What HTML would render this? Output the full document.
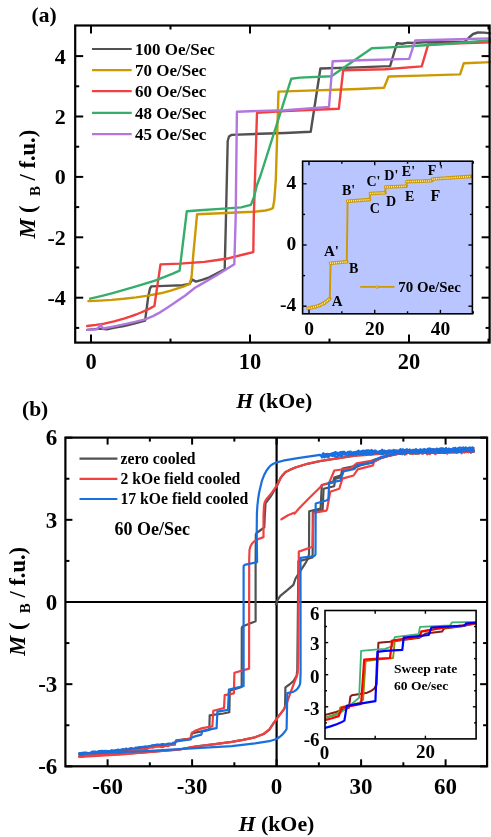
<!DOCTYPE html>
<html><head><meta charset="utf-8"><title>figure</title>
<style>
html,body{margin:0;padding:0;background:#fff;}
svg{display:block;}
text{font-family:"Liberation Serif",serif;fill:#000;}
svg{will-change:transform;}
</style></head><body>
<svg width="491" height="837" viewBox="0 0 491 837">
<defs>
<clipPath id="clipA"><rect x="75.2" y="25.5" width="416.40000000000003" height="317.1"/></clipPath>
<clipPath id="clipB"><rect x="65.4" y="437.6" width="421.70000000000005" height="328.69999999999993"/></clipPath>
<clipPath id="clipJ"><rect x="325.0" y="610.5" width="151.10000000000002" height="128.39999999999998"/></clipPath>
</defs>
<rect width="491" height="837" fill="#fff"/>
<g clip-path="url(#clipA)">
<polyline points="87.2,329.9 99.4,328.6 106.8,329.2 115.0,327.5 123.9,326.0 135.0,323.4 145.1,320.7 148.3,296.2 150.0,288.5 151.3,286.4 165.0,285.9 182.5,285.2 189.4,284.0 192.3,279.5 195.9,281.6 202.0,279.8 209.3,277.3 224.7,269.2 225.7,228.9 227.7,141.0 229.0,136.5 231.3,134.9 260.0,133.8 285.0,133.0 310.7,131.8 320.4,68.5 350.0,67.6 390.1,66.1 396.9,43.3 402.0,43.8 408.0,42.6 413.1,43.0 423.9,42.2 464.9,41.6 469.0,37.5 473.1,34.0 477.8,32.5 484.0,32.6 491.0,33.4" fill="none" stroke="#515151" stroke-width="2.4" stroke-linejoin="round" stroke-linecap="round" />
<polyline points="88.4,301.1 100.0,300.6 111.7,299.9 124.0,298.8 136.1,297.4 148.0,295.6 160.5,293.3 170.0,290.8 177.7,288.4 184.0,286.3 189.4,284.0 191.2,279.0 191.8,274.2 193.4,253.3 197.1,214.2 220.0,213.2 253.3,211.8 265.5,210.5 270.0,209.4 272.9,208.1 274.3,200.0 275.8,180.0 278.5,91.6 300.0,90.9 358.3,89.0 384.0,87.8 388.6,76.5 420.0,75.6 460.1,74.4 463.8,63.2 491.0,62.1" fill="none" stroke="#CC9900" stroke-width="2.4" stroke-linejoin="round" stroke-linecap="round" />
<polyline points="87.2,326.0 96.0,324.9 104.3,323.6 114.0,321.4 123.9,318.7 130.0,316.7 136.1,314.5 141.0,312.5 145.9,310.4 150.0,308.4 154.4,306.0 160.5,264.4 180.0,263.6 204.4,261.9 216.0,260.2 228.9,258.2 243.5,254.5 253.3,252.1 253.8,216.7 257.0,112.9 285.0,111.0 338.8,108.8 343.2,70.2 385.0,69.2 421.7,66.4 428.2,44.4 491.0,42.2" fill="none" stroke="#F14040" stroke-width="2.4" stroke-linejoin="round" stroke-linecap="round" />
<polyline points="90.2,298.7 100.0,296.3 111.7,293.3 124.0,289.9 136.1,286.4 146.0,283.4 155.7,280.3 164.0,277.2 172.8,273.7 179.6,270.6 183.3,240.0 186.8,211.3 200.0,210.3 220.0,208.9 241.1,207.4 250.9,204.9 254.0,197.0 257.0,185.0 260.7,175.0 291.2,78.8 300.0,77.6 331.4,76.3 371.8,48.2 385.0,47.6 405.0,46.5 449.8,43.7 491.0,40.1" fill="none" stroke="#37AD6B" stroke-width="2.4" stroke-linejoin="round" stroke-linecap="round" />
<polyline points="87.2,329.9 97.0,329.2 100.7,324.8 103.1,328.5 113.0,326.6 123.9,324.3 135.0,321.9 145.1,319.4 153.0,316.1 160.5,312.1 166.5,308.2 172.8,304.0 179.0,299.8 185.0,295.7 190.0,291.7 195.0,287.7 199.6,285.1 216.7,275.3 234.3,264.3 235.7,216.7 236.9,111.7 260.0,110.9 285.0,110.3 329.0,106.9 332.7,61.2 360.0,60.3 409.2,58.9 415.2,40.5 450.0,39.5 491.0,38.4" fill="none" stroke="#B177DE" stroke-width="2.4" stroke-linejoin="round" stroke-linecap="round" />
</g>
<rect x="75.2" y="25.5" width="414.40000000000003" height="317.1" fill="none" stroke="#000" stroke-width="2.2"/>
<line x1="91.00" y1="342.60" x2="91.00" y2="334.60" stroke="#000" stroke-width="2"/>
<line x1="91.00" y1="25.50" x2="91.00" y2="33.50" stroke="#000" stroke-width="2"/>
<text x="91.0" y="369.4" font-size="22.5" text-anchor="middle" font-weight="bold"  style="">0</text>
<line x1="250.00" y1="342.60" x2="250.00" y2="334.60" stroke="#000" stroke-width="2"/>
<line x1="250.00" y1="25.50" x2="250.00" y2="33.50" stroke="#000" stroke-width="2"/>
<text x="250.0" y="369.4" font-size="22.5" text-anchor="middle" font-weight="bold"  style="">10</text>
<line x1="409.00" y1="342.60" x2="409.00" y2="334.60" stroke="#000" stroke-width="2"/>
<line x1="409.00" y1="25.50" x2="409.00" y2="33.50" stroke="#000" stroke-width="2"/>
<text x="409.0" y="369.4" font-size="22.5" text-anchor="middle" font-weight="bold"  style="">20</text>
<line x1="170.50" y1="342.60" x2="170.50" y2="338.60" stroke="#000" stroke-width="2"/>
<line x1="170.50" y1="25.50" x2="170.50" y2="29.50" stroke="#000" stroke-width="2"/>
<line x1="329.50" y1="342.60" x2="329.50" y2="338.60" stroke="#000" stroke-width="2"/>
<line x1="329.50" y1="25.50" x2="329.50" y2="29.50" stroke="#000" stroke-width="2"/>
<line x1="488.50" y1="342.60" x2="488.50" y2="338.60" stroke="#000" stroke-width="2"/>
<line x1="488.50" y1="25.50" x2="488.50" y2="29.50" stroke="#000" stroke-width="2"/>
<line x1="75.20" y1="56.10" x2="83.20" y2="56.10" stroke="#000" stroke-width="2"/>
<line x1="489.60" y1="56.10" x2="481.60" y2="56.10" stroke="#000" stroke-width="2"/>
<text x="65.8" y="63.5" font-size="22" text-anchor="end" font-weight="bold"  style="">4</text>
<line x1="75.20" y1="116.50" x2="83.20" y2="116.50" stroke="#000" stroke-width="2"/>
<line x1="489.60" y1="116.50" x2="481.60" y2="116.50" stroke="#000" stroke-width="2"/>
<text x="65.8" y="123.9" font-size="22" text-anchor="end" font-weight="bold"  style="">2</text>
<line x1="75.20" y1="176.90" x2="83.20" y2="176.90" stroke="#000" stroke-width="2"/>
<line x1="489.60" y1="176.90" x2="481.60" y2="176.90" stroke="#000" stroke-width="2"/>
<text x="65.8" y="184.3" font-size="22" text-anchor="end" font-weight="bold"  style="">0</text>
<line x1="75.20" y1="237.30" x2="83.20" y2="237.30" stroke="#000" stroke-width="2"/>
<line x1="489.60" y1="237.30" x2="481.60" y2="237.30" stroke="#000" stroke-width="2"/>
<text x="65.8" y="244.7" font-size="22" text-anchor="end" font-weight="bold"  style="">-2</text>
<line x1="75.20" y1="297.70" x2="83.20" y2="297.70" stroke="#000" stroke-width="2"/>
<line x1="489.60" y1="297.70" x2="481.60" y2="297.70" stroke="#000" stroke-width="2"/>
<text x="65.8" y="305.1" font-size="22" text-anchor="end" font-weight="bold"  style="">-4</text>
<line x1="75.20" y1="86.30" x2="79.20" y2="86.30" stroke="#000" stroke-width="2"/>
<line x1="489.60" y1="86.30" x2="485.60" y2="86.30" stroke="#000" stroke-width="2"/>
<line x1="75.20" y1="146.70" x2="79.20" y2="146.70" stroke="#000" stroke-width="2"/>
<line x1="489.60" y1="146.70" x2="485.60" y2="146.70" stroke="#000" stroke-width="2"/>
<line x1="75.20" y1="207.10" x2="79.20" y2="207.10" stroke="#000" stroke-width="2"/>
<line x1="489.60" y1="207.10" x2="485.60" y2="207.10" stroke="#000" stroke-width="2"/>
<line x1="75.20" y1="267.50" x2="79.20" y2="267.50" stroke="#000" stroke-width="2"/>
<line x1="489.60" y1="267.50" x2="485.60" y2="267.50" stroke="#000" stroke-width="2"/>
<line x1="75.20" y1="327.90" x2="79.20" y2="327.90" stroke="#000" stroke-width="2"/>
<line x1="489.60" y1="327.90" x2="485.60" y2="327.90" stroke="#000" stroke-width="2"/>
<text x="31.5" y="22.3" font-size="21.5" text-anchor="start" font-weight="bold"  style="">(a)</text>
<text x="236.2" y="408.3" font-size="21.9" text-anchor="start" font-weight="bold"  style=""><tspan font-style="italic">H</tspan> (kOe)</text>
<g transform="translate(35.4,238.6) rotate(-90)"><text x="0.0" y="0.0" font-size="22.5" text-anchor="start" font-weight="bold"  style=""><tspan font-style="italic">M</tspan> (&#160;<tspan font-size="15" dy="5">&#160;B</tspan><tspan dy="-5"> / f.u.)</tspan></text></g>
<line x1="92.00" y1="49.00" x2="131.70" y2="49.00" stroke="#515151" stroke-width="2.2"/>
<text x="135.0" y="54.6" font-size="17" text-anchor="start" font-weight="bold"  style="">100 Oe/Sec</text>
<line x1="92.00" y1="70.10" x2="131.70" y2="70.10" stroke="#CC9900" stroke-width="2.2"/>
<text x="135.0" y="75.7" font-size="17" text-anchor="start" font-weight="bold"  style="">70 Oe/Sec</text>
<line x1="92.00" y1="91.20" x2="131.70" y2="91.20" stroke="#F14040" stroke-width="2.2"/>
<text x="135.0" y="96.8" font-size="17" text-anchor="start" font-weight="bold"  style="">60 Oe/Sec</text>
<line x1="92.00" y1="112.90" x2="131.70" y2="112.90" stroke="#37AD6B" stroke-width="2.2"/>
<text x="135.0" y="118.5" font-size="17" text-anchor="start" font-weight="bold"  style="">48 Oe/Sec</text>
<line x1="92.00" y1="134.20" x2="131.70" y2="134.20" stroke="#B177DE" stroke-width="2.2"/>
<text x="135.0" y="139.8" font-size="17" text-anchor="start" font-weight="bold"  style="">45 Oe/Sec</text>
<rect x="302.6" y="161.2" width="169.79999999999995" height="152.60000000000002" fill="#B9C5FF"/>
<polyline points="307.9,308.4 312.0,307.6 316.0,306.6 320.0,305.2 324.0,303.2 327.0,301.0 329.8,298.6 330.6,263.2 346.8,261.8 347.6,201.2 369.6,199.6 370.3,193.5 385.0,192.8 385.7,187.0 406.3,186.2 406.9,181.6 431.8,180.8 432.4,179.0 450.0,177.8 471.0,176.4" fill="none" stroke="#CC9900" stroke-width="1.9" stroke-linejoin="round" stroke-linecap="round" />
<polyline points="307.9,308.4 312.0,307.6" fill="none" stroke="#CC9900" stroke-width="3.6" stroke-linejoin="round" stroke-linecap="round" />
<polyline points="312.0,307.6 316.0,306.6" fill="none" stroke="#CC9900" stroke-width="3.6" stroke-linejoin="round" stroke-linecap="round" />
<polyline points="316.0,306.6 320.0,305.2" fill="none" stroke="#CC9900" stroke-width="3.6" stroke-linejoin="round" stroke-linecap="round" />
<polyline points="320.0,305.2 324.0,303.2" fill="none" stroke="#CC9900" stroke-width="3.6" stroke-linejoin="round" stroke-linecap="round" />
<polyline points="324.0,303.2 327.0,301.0" fill="none" stroke="#CC9900" stroke-width="3.6" stroke-linejoin="round" stroke-linecap="round" />
<polyline points="327.0,301.0 329.8,298.6" fill="none" stroke="#CC9900" stroke-width="3.6" stroke-linejoin="round" stroke-linecap="round" />
<polyline points="330.6,263.2 346.8,261.8" fill="none" stroke="#CC9900" stroke-width="3.6" stroke-linejoin="round" stroke-linecap="round" />
<polyline points="347.6,201.2 369.6,199.6" fill="none" stroke="#CC9900" stroke-width="3.6" stroke-linejoin="round" stroke-linecap="round" />
<polyline points="370.3,193.5 385.0,192.8" fill="none" stroke="#CC9900" stroke-width="3.6" stroke-linejoin="round" stroke-linecap="round" />
<polyline points="385.7,187.0 406.3,186.2" fill="none" stroke="#CC9900" stroke-width="3.6" stroke-linejoin="round" stroke-linecap="round" />
<polyline points="406.9,181.6 431.8,180.8" fill="none" stroke="#CC9900" stroke-width="3.6" stroke-linejoin="round" stroke-linecap="round" />
<polyline points="432.4,179.0 450.0,177.8" fill="none" stroke="#CC9900" stroke-width="3.6" stroke-linejoin="round" stroke-linecap="round" />
<polyline points="450.0,177.8 471.0,176.4" fill="none" stroke="#CC9900" stroke-width="3.6" stroke-linejoin="round" stroke-linecap="round" />
<ellipse cx="307.9" cy="308.4" rx="0.55" ry="0.85" fill="#FFF4C0"/>
<ellipse cx="309.8" cy="308.0" rx="0.55" ry="0.85" fill="#FFF4C0"/>
<ellipse cx="311.7" cy="307.7" rx="0.55" ry="0.85" fill="#FFF4C0"/>
<ellipse cx="313.6" cy="307.2" rx="0.55" ry="0.85" fill="#FFF4C0"/>
<ellipse cx="315.5" cy="306.7" rx="0.55" ry="0.85" fill="#FFF4C0"/>
<ellipse cx="317.4" cy="306.1" rx="0.55" ry="0.85" fill="#FFF4C0"/>
<ellipse cx="319.2" cy="305.5" rx="0.55" ry="0.85" fill="#FFF4C0"/>
<ellipse cx="321.0" cy="304.7" rx="0.55" ry="0.85" fill="#FFF4C0"/>
<ellipse cx="322.7" cy="303.8" rx="0.55" ry="0.85" fill="#FFF4C0"/>
<ellipse cx="324.4" cy="302.9" rx="0.55" ry="0.85" fill="#FFF4C0"/>
<ellipse cx="326.0" cy="301.7" rx="0.55" ry="0.85" fill="#FFF4C0"/>
<ellipse cx="327.5" cy="300.5" rx="0.55" ry="0.85" fill="#FFF4C0"/>
<ellipse cx="329.0" cy="299.3" rx="0.55" ry="0.85" fill="#FFF4C0"/>
<ellipse cx="330.6" cy="263.2" rx="0.55" ry="0.85" fill="#FFF4C0"/>
<ellipse cx="332.5" cy="263.0" rx="0.55" ry="0.85" fill="#FFF4C0"/>
<ellipse cx="334.5" cy="262.9" rx="0.55" ry="0.85" fill="#FFF4C0"/>
<ellipse cx="336.4" cy="262.7" rx="0.55" ry="0.85" fill="#FFF4C0"/>
<ellipse cx="338.4" cy="262.5" rx="0.55" ry="0.85" fill="#FFF4C0"/>
<ellipse cx="340.3" cy="262.4" rx="0.55" ry="0.85" fill="#FFF4C0"/>
<ellipse cx="342.3" cy="262.2" rx="0.55" ry="0.85" fill="#FFF4C0"/>
<ellipse cx="344.2" cy="262.0" rx="0.55" ry="0.85" fill="#FFF4C0"/>
<ellipse cx="346.1" cy="261.9" rx="0.55" ry="0.85" fill="#FFF4C0"/>
<ellipse cx="347.6" cy="201.2" rx="0.55" ry="0.85" fill="#FFF4C0"/>
<ellipse cx="349.5" cy="201.1" rx="0.55" ry="0.85" fill="#FFF4C0"/>
<ellipse cx="351.5" cy="200.9" rx="0.55" ry="0.85" fill="#FFF4C0"/>
<ellipse cx="353.4" cy="200.8" rx="0.55" ry="0.85" fill="#FFF4C0"/>
<ellipse cx="355.4" cy="200.6" rx="0.55" ry="0.85" fill="#FFF4C0"/>
<ellipse cx="357.3" cy="200.5" rx="0.55" ry="0.85" fill="#FFF4C0"/>
<ellipse cx="359.3" cy="200.4" rx="0.55" ry="0.85" fill="#FFF4C0"/>
<ellipse cx="361.2" cy="200.2" rx="0.55" ry="0.85" fill="#FFF4C0"/>
<ellipse cx="363.2" cy="200.1" rx="0.55" ry="0.85" fill="#FFF4C0"/>
<ellipse cx="365.1" cy="199.9" rx="0.55" ry="0.85" fill="#FFF4C0"/>
<ellipse cx="367.0" cy="199.8" rx="0.55" ry="0.85" fill="#FFF4C0"/>
<ellipse cx="369.0" cy="199.6" rx="0.55" ry="0.85" fill="#FFF4C0"/>
<ellipse cx="370.3" cy="193.5" rx="0.55" ry="0.85" fill="#FFF4C0"/>
<ellipse cx="372.2" cy="193.4" rx="0.55" ry="0.85" fill="#FFF4C0"/>
<ellipse cx="374.2" cy="193.3" rx="0.55" ry="0.85" fill="#FFF4C0"/>
<ellipse cx="376.1" cy="193.2" rx="0.55" ry="0.85" fill="#FFF4C0"/>
<ellipse cx="378.1" cy="193.1" rx="0.55" ry="0.85" fill="#FFF4C0"/>
<ellipse cx="380.0" cy="193.0" rx="0.55" ry="0.85" fill="#FFF4C0"/>
<ellipse cx="382.0" cy="192.9" rx="0.55" ry="0.85" fill="#FFF4C0"/>
<ellipse cx="383.9" cy="192.9" rx="0.55" ry="0.85" fill="#FFF4C0"/>
<ellipse cx="385.7" cy="187.0" rx="0.55" ry="0.85" fill="#FFF4C0"/>
<ellipse cx="387.6" cy="186.9" rx="0.55" ry="0.85" fill="#FFF4C0"/>
<ellipse cx="389.6" cy="186.8" rx="0.55" ry="0.85" fill="#FFF4C0"/>
<ellipse cx="391.5" cy="186.8" rx="0.55" ry="0.85" fill="#FFF4C0"/>
<ellipse cx="393.5" cy="186.7" rx="0.55" ry="0.85" fill="#FFF4C0"/>
<ellipse cx="395.4" cy="186.6" rx="0.55" ry="0.85" fill="#FFF4C0"/>
<ellipse cx="397.4" cy="186.5" rx="0.55" ry="0.85" fill="#FFF4C0"/>
<ellipse cx="399.3" cy="186.5" rx="0.55" ry="0.85" fill="#FFF4C0"/>
<ellipse cx="401.3" cy="186.4" rx="0.55" ry="0.85" fill="#FFF4C0"/>
<ellipse cx="403.2" cy="186.3" rx="0.55" ry="0.85" fill="#FFF4C0"/>
<ellipse cx="405.2" cy="186.2" rx="0.55" ry="0.85" fill="#FFF4C0"/>
<ellipse cx="406.9" cy="181.6" rx="0.55" ry="0.85" fill="#FFF4C0"/>
<ellipse cx="408.8" cy="181.5" rx="0.55" ry="0.85" fill="#FFF4C0"/>
<ellipse cx="410.8" cy="181.5" rx="0.55" ry="0.85" fill="#FFF4C0"/>
<ellipse cx="412.7" cy="181.4" rx="0.55" ry="0.85" fill="#FFF4C0"/>
<ellipse cx="414.7" cy="181.3" rx="0.55" ry="0.85" fill="#FFF4C0"/>
<ellipse cx="416.6" cy="181.3" rx="0.55" ry="0.85" fill="#FFF4C0"/>
<ellipse cx="418.6" cy="181.2" rx="0.55" ry="0.85" fill="#FFF4C0"/>
<ellipse cx="420.5" cy="181.2" rx="0.55" ry="0.85" fill="#FFF4C0"/>
<ellipse cx="422.5" cy="181.1" rx="0.55" ry="0.85" fill="#FFF4C0"/>
<ellipse cx="424.4" cy="181.0" rx="0.55" ry="0.85" fill="#FFF4C0"/>
<ellipse cx="426.4" cy="181.0" rx="0.55" ry="0.85" fill="#FFF4C0"/>
<ellipse cx="428.3" cy="180.9" rx="0.55" ry="0.85" fill="#FFF4C0"/>
<ellipse cx="430.3" cy="180.8" rx="0.55" ry="0.85" fill="#FFF4C0"/>
<ellipse cx="432.4" cy="179.0" rx="0.55" ry="0.85" fill="#FFF4C0"/>
<ellipse cx="434.3" cy="178.9" rx="0.55" ry="0.85" fill="#FFF4C0"/>
<ellipse cx="436.3" cy="178.7" rx="0.55" ry="0.85" fill="#FFF4C0"/>
<ellipse cx="438.2" cy="178.6" rx="0.55" ry="0.85" fill="#FFF4C0"/>
<ellipse cx="440.2" cy="178.5" rx="0.55" ry="0.85" fill="#FFF4C0"/>
<ellipse cx="442.1" cy="178.3" rx="0.55" ry="0.85" fill="#FFF4C0"/>
<ellipse cx="444.1" cy="178.2" rx="0.55" ry="0.85" fill="#FFF4C0"/>
<ellipse cx="446.0" cy="178.1" rx="0.55" ry="0.85" fill="#FFF4C0"/>
<ellipse cx="448.0" cy="177.9" rx="0.55" ry="0.85" fill="#FFF4C0"/>
<ellipse cx="449.9" cy="177.8" rx="0.55" ry="0.85" fill="#FFF4C0"/>
<ellipse cx="451.9" cy="177.7" rx="0.55" ry="0.85" fill="#FFF4C0"/>
<ellipse cx="453.8" cy="177.5" rx="0.55" ry="0.85" fill="#FFF4C0"/>
<ellipse cx="455.7" cy="177.4" rx="0.55" ry="0.85" fill="#FFF4C0"/>
<ellipse cx="457.7" cy="177.3" rx="0.55" ry="0.85" fill="#FFF4C0"/>
<ellipse cx="459.6" cy="177.2" rx="0.55" ry="0.85" fill="#FFF4C0"/>
<ellipse cx="461.6" cy="177.0" rx="0.55" ry="0.85" fill="#FFF4C0"/>
<ellipse cx="463.5" cy="176.9" rx="0.55" ry="0.85" fill="#FFF4C0"/>
<ellipse cx="465.5" cy="176.8" rx="0.55" ry="0.85" fill="#FFF4C0"/>
<ellipse cx="467.4" cy="176.6" rx="0.55" ry="0.85" fill="#FFF4C0"/>
<ellipse cx="469.4" cy="176.5" rx="0.55" ry="0.85" fill="#FFF4C0"/>
<rect x="302.6" y="161.2" width="169.79999999999995" height="152.60000000000002" fill="none" stroke="#000" stroke-width="1.6"/>
<line x1="309.00" y1="313.80" x2="309.00" y2="309.80" stroke="#000" stroke-width="1.4"/>
<line x1="309.00" y1="161.20" x2="309.00" y2="165.20" stroke="#000" stroke-width="1.4"/>
<text x="309.0" y="334.6" font-size="19.5" text-anchor="middle" font-weight="bold"  style="">0</text>
<line x1="374.70" y1="313.80" x2="374.70" y2="309.80" stroke="#000" stroke-width="1.4"/>
<line x1="374.70" y1="161.20" x2="374.70" y2="165.20" stroke="#000" stroke-width="1.4"/>
<text x="374.7" y="334.6" font-size="19.5" text-anchor="middle" font-weight="bold"  style="">20</text>
<line x1="440.40" y1="313.80" x2="440.40" y2="309.80" stroke="#000" stroke-width="1.4"/>
<line x1="440.40" y1="161.20" x2="440.40" y2="165.20" stroke="#000" stroke-width="1.4"/>
<text x="440.4" y="334.6" font-size="19.5" text-anchor="middle" font-weight="bold"  style="">40</text>
<line x1="341.85" y1="313.80" x2="341.85" y2="311.30" stroke="#000" stroke-width="1.4"/>
<line x1="341.85" y1="161.20" x2="341.85" y2="163.70" stroke="#000" stroke-width="1.4"/>
<line x1="407.55" y1="313.80" x2="407.55" y2="311.30" stroke="#000" stroke-width="1.4"/>
<line x1="407.55" y1="161.20" x2="407.55" y2="163.70" stroke="#000" stroke-width="1.4"/>
<line x1="473.25" y1="313.80" x2="473.25" y2="311.30" stroke="#000" stroke-width="1.4"/>
<line x1="473.25" y1="161.20" x2="473.25" y2="163.70" stroke="#000" stroke-width="1.4"/>
<line x1="302.60" y1="183.80" x2="306.60" y2="183.80" stroke="#000" stroke-width="1.4"/>
<line x1="472.40" y1="183.80" x2="468.40" y2="183.80" stroke="#000" stroke-width="1.4"/>
<text x="296.3" y="188.5" font-size="19.5" text-anchor="end" font-weight="bold"  style="">4</text>
<line x1="302.60" y1="245.00" x2="306.60" y2="245.00" stroke="#000" stroke-width="1.4"/>
<line x1="472.40" y1="245.00" x2="468.40" y2="245.00" stroke="#000" stroke-width="1.4"/>
<text x="296.3" y="249.7" font-size="19.5" text-anchor="end" font-weight="bold"  style="">0</text>
<line x1="302.60" y1="306.20" x2="306.60" y2="306.20" stroke="#000" stroke-width="1.4"/>
<line x1="472.40" y1="306.20" x2="468.40" y2="306.20" stroke="#000" stroke-width="1.4"/>
<text x="296.3" y="310.9" font-size="19.5" text-anchor="end" font-weight="bold"  style="">-4</text>
<line x1="302.60" y1="214.40" x2="305.10" y2="214.40" stroke="#000" stroke-width="1.4"/>
<line x1="472.40" y1="214.40" x2="469.90" y2="214.40" stroke="#000" stroke-width="1.4"/>
<line x1="302.60" y1="275.60" x2="305.10" y2="275.60" stroke="#000" stroke-width="1.4"/>
<line x1="472.40" y1="275.60" x2="469.90" y2="275.60" stroke="#000" stroke-width="1.4"/>
<text x="331.7" y="306.0" font-size="15" text-anchor="start" font-weight="bold"  style="">A</text>
<text x="324.0" y="255.8" font-size="15" text-anchor="start" font-weight="bold"  style="">A'</text>
<text x="349.0" y="272.7" font-size="14" text-anchor="start" font-weight="bold"  style="">B</text>
<text x="342.0" y="195.2" font-size="14" text-anchor="start" font-weight="bold"  style="">B'</text>
<text x="369.8" y="212.6" font-size="14" text-anchor="start" font-weight="bold"  style="">C</text>
<text x="366.5" y="186.2" font-size="14" text-anchor="start" font-weight="bold"  style="">C'</text>
<text x="386.0" y="206.2" font-size="14" text-anchor="start" font-weight="bold"  style="">D</text>
<text x="384.3" y="179.7" font-size="14" text-anchor="start" font-weight="bold"  style="">D'</text>
<text x="405.0" y="200.7" font-size="14" text-anchor="start" font-weight="bold"  style="">E</text>
<text x="401.8" y="175.7" font-size="14" text-anchor="start" font-weight="bold"  style="">E'</text>
<text x="430.6" y="200.8" font-size="16" text-anchor="start" font-weight="bold"  style="">F</text>
<text x="427.8" y="174.7" font-size="14" text-anchor="start" font-weight="bold"  style="">F '</text>
<line x1="360.20" y1="286.90" x2="394.50" y2="286.90" stroke="#CC9900" stroke-width="1.9"/>
<circle cx="377" cy="286.9" r="1.2" fill="#FFF4C0" stroke="#CC9900" stroke-width="1.1"/>
<text x="398.3" y="292.0" font-size="14.9" text-anchor="start" font-weight="bold"  style="">70 Oe/Sec</text>
<line x1="65.40" y1="602.00" x2="487.10" y2="602.00" stroke="#000" stroke-width="2.2"/>
<line x1="276.60" y1="437.60" x2="276.60" y2="766.30" stroke="#000" stroke-width="2.2"/>
<g clip-path="url(#clipB)">
<polyline points="275.9,604.3 277.6,599.8 280.3,595.8 287.0,590.4 293.4,584.9 295.5,578.5 304.8,564.2 307.6,559.2 309.0,554.3 309.2,511.3 320.6,508.5 321.8,485.0 333.0,482.5 334.3,477.6 341.0,475.3 342.5,468.5 353.6,466.4 360.7,464.3 373.0,461.7 381.0,457.8 388.0,455.8 395.0,454.2 397.0,452.7 398.3,453.0 399.6,453.3 401.0,453.8 402.3,452.5 403.6,452.8 404.9,452.5 406.2,453.7 407.6,452.3 408.9,452.2 410.2,452.1 411.5,452.6 412.8,453.4 414.1,453.4 415.5,453.1 416.8,453.5 418.1,453.3 419.4,452.4 420.7,452.1 422.1,453.3 423.4,452.9 424.7,451.8 426.0,452.7 427.3,452.2 428.7,452.2 430.0,452.1 431.3,451.8 432.6,451.5 433.9,451.9 435.2,451.9 436.6,452.9 437.9,451.5 439.2,452.8 440.5,451.6 441.8,451.7 443.2,452.5 444.5,452.4 445.8,451.7 447.1,451.1 448.4,451.7 449.8,451.5 451.1,452.4 452.4,451.2 453.7,451.4 455.0,452.2 456.4,450.8 457.7,451.3 459.0,451.9 460.3,451.8 461.6,450.6 462.9,450.6 464.3,450.6 465.6,451.9 466.9,450.8 468.2,451.6 469.5,451.8 470.9,450.8 472.2,450.7 473.5,451.7" fill="none" stroke="#515151" stroke-width="2.2" stroke-linejoin="round" stroke-linecap="round" />
<polyline points="473.5,450.0 471.9,449.5 470.3,450.2 468.7,449.7 467.1,449.6 465.4,449.3 463.8,450.5 462.2,450.8 460.6,450.4 459.0,451.0 457.4,449.5 455.8,449.9 454.2,450.4 452.6,451.2 450.9,451.2 449.3,450.4 447.7,450.2 446.1,450.5 444.5,450.7 442.9,451.4 441.3,450.3 439.7,451.3 438.1,451.3 436.4,451.5 434.8,451.4 433.2,451.2 431.6,450.8 430.0,450.9 428.4,451.0 426.8,451.7 425.2,450.6 423.6,450.8 421.9,451.8 420.3,451.0 418.7,450.7 417.1,450.7 415.5,451.6 413.9,451.3 412.3,452.4 410.7,452.2 409.1,452.4 407.4,451.3 405.8,451.1 404.2,451.1 402.6,451.8 401.0,452.2 399.4,451.8 397.8,451.5 396.2,451.8 394.6,452.2 392.9,452.3 391.3,452.5 389.7,452.7 388.1,452.4 386.5,451.6 384.9,452.8 383.3,452.0 381.7,452.5 380.1,452.3 378.4,452.9 376.8,452.1 375.2,452.2 373.6,452.3 372.0,452.2 340.4,457.8 320.0,461.2 307.5,463.8 295.3,467.5 285.5,472.1 280.7,477.8 277.3,485.3 272.8,493.0 270.9,496.1 265.5,503.4 264.8,515.7 264.3,527.4 258.7,531.5 256.7,532.8 255.8,534.5 255.6,562.8 255.6,621.2 242.4,626.6 241.8,628.0 241.7,686.9 229.8,690.6 229.3,712.2 223.4,713.5 209.7,715.3 209.3,730.0 195.0,732.7 191.9,733.6 190.5,738.5 176.2,740.3 174.8,743.2 174.8,744.5 173.2,744.3 171.6,744.2 169.9,744.4 168.3,745.4 166.7,745.0 165.1,744.8 163.5,745.7 161.9,745.7 160.2,746.3 158.6,745.4 157.0,746.1 155.4,746.7 153.8,747.0 152.1,747.3 150.5,746.4 148.9,747.0 147.3,747.0 145.7,747.3 144.0,748.5 142.4,748.2 140.8,748.9 139.2,748.4 137.6,749.3 136.0,749.0 134.3,748.9 132.7,749.7 131.1,750.0 129.5,749.2 127.9,749.9 126.2,750.1 124.6,749.8 123.0,750.1 121.4,750.0 119.8,750.3 118.1,750.5 116.5,751.1 114.9,751.3 113.3,750.9 111.7,750.8 110.1,751.4 108.4,752.0 106.8,751.5 105.2,751.8 103.6,751.8 102.0,752.7 100.3,752.5 98.7,752.1 97.1,752.3 95.5,752.8 93.9,753.1 92.2,753.4 90.6,752.9 89.0,753.1 87.4,753.9 85.8,753.7 84.2,753.7 82.5,753.9 80.9,754.8 79.3,754.2" fill="none" stroke="#515151" stroke-width="2.2" stroke-linejoin="round" stroke-linecap="round" />
<polyline points="79.3,756.2 122.0,753.8 150.5,751.8 179.0,749.5 195.0,746.5 215.0,744.2 231.7,741.9 243.0,739.9 255.0,737.3 263.6,734.0 269.3,729.7 273.6,723.2 278.7,716.1 283.7,709.6 285.1,706.5 285.4,687.4 289.4,684.5 293.7,680.9 296.6,675.9 297.3,670.2 297.6,640.0 298.4,561.4 312.6,557.5 312.8,512.2 322.6,509.6 323.6,488.8 334.2,486.2 335.2,479.0 341.0,477.3 343.5,470.5 354.0,468.0 360.7,465.2 373.0,462.4 381.0,458.0 388.0,456.0 395.0,454.4 397.0,453.4 398.3,453.1 399.6,453.1 401.0,453.8 402.3,454.0 403.6,453.0 404.9,452.7 406.2,453.5 407.6,452.6 408.9,452.3 410.2,453.7 411.5,452.9 412.8,453.5 414.1,452.8 415.5,453.5 416.8,452.8 418.1,452.3 419.4,452.1 420.7,452.9 422.1,453.0 423.4,453.4 424.7,452.0 426.0,452.9 427.3,452.4 428.7,452.6 430.0,452.0 431.3,452.2 432.6,452.5 433.9,453.1 435.2,451.8 436.6,452.3 437.9,452.8 439.2,453.0 440.5,451.7 441.8,451.6 443.2,452.8 444.5,452.9 445.8,452.0 447.1,451.3 448.4,452.7 449.8,451.8 451.1,452.5 452.4,452.0 453.7,452.3 455.0,451.2 456.4,452.2 457.7,451.2 459.0,451.5 460.3,452.2 461.6,452.1 462.9,451.0 464.3,451.0 465.6,451.3 466.9,451.4 468.2,451.2 469.5,450.7 470.9,450.9 472.2,451.6 473.5,451.8" fill="none" stroke="#515151" stroke-width="2.2" stroke-linejoin="round" stroke-linecap="round" />
<polyline points="281.4,519.3 288.0,515.2 294.1,512.7 294.6,513.6 298.5,509.0 302.6,504.7 310.0,497.3 320.0,487.5 322.0,485.0 329.2,482.7 334.3,470.5 350.5,468.4 356.7,463.3 370.9,460.9 378.0,458.6 381.0,457.0 388.0,455.0 395.0,453.4 397.0,452.8 398.3,453.0 399.6,452.2 401.0,450.5 402.3,453.3 403.6,453.1 404.9,452.2 406.2,452.3 407.6,452.7 408.9,450.5 410.2,452.9 411.5,451.1 412.8,450.4 414.1,451.1 415.5,452.7 416.8,450.8 418.1,452.7 419.4,453.5 420.7,451.8 422.1,451.3 423.4,451.7 424.7,452.4 426.0,452.6 427.3,452.0 428.7,452.1 430.0,450.0 431.3,450.2 432.6,450.6 433.9,452.3 435.2,450.7 436.6,451.6 437.9,449.5 439.2,449.7 440.5,450.4 441.8,451.8 443.2,451.8 444.5,451.7 445.8,450.3 447.1,451.1 448.4,450.8 449.8,450.8 451.1,449.5 452.4,452.3 453.7,449.7 455.0,452.5 456.4,452.3 457.7,449.0 459.0,450.5 460.3,451.8 461.6,452.3 462.9,450.3 464.3,449.7 465.6,449.4 466.9,452.0 468.2,449.3 469.5,450.6 470.9,449.0 472.2,450.3 473.5,451.8" fill="none" stroke="#F14040" stroke-width="2.2" stroke-linejoin="round" stroke-linecap="round" />
<polyline points="473.5,448.4 472.3,451.2 471.1,450.0 469.9,451.6 468.6,450.9 467.4,449.0 466.2,451.7 465.0,450.1 463.8,448.3 462.6,448.3 461.3,450.2 460.1,450.1 458.9,449.6 457.7,449.0 456.5,449.8 455.3,449.7 454.0,451.9 452.8,448.5 451.6,451.6 450.4,452.0 449.2,449.1 448.0,452.4 446.7,451.6 445.5,452.4 444.3,450.0 443.1,450.3 441.9,450.4 440.7,452.9 439.4,451.3 438.2,450.4 437.0,450.7 435.8,450.2 434.6,449.3 433.4,449.5 432.1,452.5 430.9,450.4 429.7,453.0 428.5,450.3 427.3,450.4 426.1,451.4 424.8,450.2 423.6,450.9 422.4,453.3 421.2,453.0 420.0,452.8 418.8,452.1 417.5,453.2 416.3,453.4 415.1,451.8 413.9,452.5 412.7,449.9 411.5,452.6 410.2,451.5 409.0,452.8 407.8,452.4 406.6,451.0 405.4,450.0 404.2,453.6 402.9,450.4 401.7,451.8 400.5,451.3 399.3,451.2 398.1,453.0 396.9,453.9 395.6,451.1 394.4,452.7 393.2,451.3 392.0,452.4 385.0,453.4 371.0,454.6 355.0,456.0 340.4,457.8 330.0,459.3 320.0,461.0 307.5,463.8 295.3,467.5 290.0,469.6 285.5,472.1 282.8,474.7 280.7,477.8 277.0,485.1 272.1,492.4 266.0,499.8 264.6,502.5 264.0,505.9 263.5,515.7 263.5,537.1 257.8,539.3 254.6,541.0 252.1,543.5 250.4,546.5 249.5,550.0 249.2,560.0 249.1,668.6 234.4,672.8 233.9,693.3 224.7,695.1 224.0,708.0 213.3,710.7 212.4,726.3 202.3,728.1 195.0,730.9 191.9,732.8 190.5,738.5 176.2,740.8 174.8,743.8 174.8,744.7 173.2,744.5 171.6,744.8 169.9,745.0 168.3,746.2 166.7,745.9 165.1,745.7 163.5,746.9 161.9,747.2 160.2,746.6 158.6,746.4 157.0,746.7 155.4,746.8 153.8,747.4 152.1,747.3 150.5,747.7 148.9,748.0 147.3,748.7 145.7,749.4 144.0,749.4 142.4,749.2 140.8,749.5 139.2,749.9 137.6,749.9 136.0,750.1 134.3,749.9 132.7,750.4 131.1,751.5 129.5,750.5 127.9,751.2 126.2,751.6 124.6,752.1 123.0,751.4 121.4,751.6 119.8,751.8 118.1,752.2 116.5,752.4 114.9,753.3 113.3,753.3 111.7,753.5 110.1,752.5 108.4,752.7 106.8,753.8 105.2,754.3 103.6,753.8 102.0,754.2 100.3,753.5 98.7,754.2 97.1,755.2 95.5,755.2 93.9,755.4 92.2,755.7 90.6,754.9 89.0,754.9 87.4,755.1 85.8,755.8 84.2,756.2 82.5,756.7 80.9,756.5 79.3,756.6" fill="none" stroke="#F14040" stroke-width="2.2" stroke-linejoin="round" stroke-linecap="round" />
<polyline points="79.3,757.0 122.0,754.3 150.5,752.0 179.0,749.6 195.0,746.5 215.0,744.2 231.7,741.9 243.0,739.9 255.0,737.3 263.6,734.0 269.3,729.7 273.6,723.2 278.7,716.1 283.7,709.6 285.8,706.0 288.5,698.5 290.9,691.7 293.0,686.0 295.2,680.2 296.6,676.6 297.7,673.0 298.2,660.0 298.8,551.6 312.6,546.8 313.5,512.8 326.3,510.6 327.1,509.2 330.2,491.8 339.3,488.8 342.4,478.6 353.6,475.5 357.7,469.4 373.0,465.4 374.0,461.3 381.0,458.2 388.0,456.2 395.0,454.6 397.0,454.4 398.3,453.4 399.6,453.6 401.0,452.0 402.3,454.3 403.6,452.5 404.9,454.7 406.2,453.8 407.6,452.7 408.9,452.1 410.2,452.4 411.5,453.6 412.8,453.8 414.1,451.9 415.5,451.7 416.8,453.2 418.1,453.3 419.4,452.7 420.7,452.1 422.1,453.3 423.4,451.4 424.7,452.3 426.0,452.7 427.3,454.3 428.7,453.2 430.0,454.0 431.3,452.6 432.6,451.8 433.9,451.8 435.2,454.1 436.6,453.2 437.9,451.9 439.2,450.9 440.5,452.4 441.8,452.9 443.2,452.1 444.5,451.5 445.8,452.8 447.1,453.6 448.4,451.3 449.8,450.6 451.1,451.6 452.4,451.8 453.7,452.6 455.0,451.0 456.4,452.9 457.7,452.7 459.0,451.9 460.3,450.9 461.6,453.3 462.9,451.1 464.3,452.7 465.6,450.8 466.9,450.7 468.2,452.4 469.5,450.9 470.9,452.9 472.2,451.4 473.5,450.4" fill="none" stroke="#F14040" stroke-width="2.2" stroke-linejoin="round" stroke-linecap="round" />
<polyline points="473.5,447.7 472.2,447.4 470.9,448.5 469.6,447.3 468.3,448.3 467.0,448.0 465.7,447.4 464.4,448.4 463.1,447.4 461.7,448.3 460.4,447.6 459.1,447.6 457.8,448.4 456.5,449.3 455.2,447.8 453.9,448.1 452.6,449.0 451.3,449.8 450.0,449.0 448.7,448.6 447.4,450.0 446.1,448.0 444.8,449.8 443.5,448.6 442.2,448.3 440.8,448.3 439.5,448.7 438.2,449.9 436.9,448.5 435.6,449.5 434.3,449.6 433.0,449.1 431.7,449.5 430.4,448.5 429.1,448.5 427.8,448.9 426.5,450.0 425.2,449.4 423.9,449.2 422.6,449.8 421.3,449.6 420.0,449.3 418.6,450.4 417.3,450.2 416.0,449.2 414.7,450.0 413.4,449.9 412.1,450.7 410.8,450.4 409.5,449.5 408.2,451.0 406.9,449.2 405.6,449.9 404.3,450.6 403.0,449.3 401.7,450.1 400.4,449.1 399.1,450.6 397.8,450.8 396.4,450.4 395.1,451.1 393.8,449.9 392.5,450.8 391.2,450.6 389.9,450.6 388.6,450.4 387.3,451.2 386.0,451.5 384.7,450.5 383.4,451.0 382.1,449.7 380.8,451.2 379.5,451.1 378.2,451.9 376.9,451.6 375.5,450.5 374.2,450.7 372.9,451.4 371.6,450.0 370.3,451.0 369.0,450.4 367.7,450.4 366.4,450.3 365.1,451.9 363.8,450.6 362.5,450.9 361.2,451.2 359.9,452.3 358.6,450.6 357.3,451.5 356.0,451.8 354.7,452.6 353.3,452.5 352.0,452.7 350.7,451.5 349.4,451.9 348.1,451.9 346.8,453.2 345.5,453.4 344.2,451.8 342.9,451.9 341.6,452.1 340.3,452.2 339.0,452.9 337.7,453.2 336.4,452.6 335.1,452.1 333.8,453.2 332.4,453.2 331.1,453.7 329.8,454.6 328.5,454.2 327.2,453.9 325.9,454.2 324.6,454.4 323.3,453.2 322.0,455.1" fill="none" stroke="#1A6FDF" stroke-width="2.2" stroke-linejoin="round" stroke-linecap="round" />
<polyline points="473.5,451.2 472.2,451.4 470.9,451.3 469.6,450.5 468.3,450.6 467.0,450.0 465.7,451.1 464.4,450.0 463.1,450.1 461.7,450.4 460.4,450.3 459.1,450.7 457.8,450.2 456.5,450.1 455.2,450.5 453.9,450.4 452.6,451.0 451.3,450.3 450.0,452.1 448.7,451.6 447.4,450.7 446.1,451.0 444.8,451.2 443.5,451.3 442.2,450.8 440.8,452.3 439.5,452.6 438.2,451.6 436.9,451.7 435.6,450.9 434.3,451.0 433.0,451.5 431.7,451.4 430.4,452.6 429.1,451.3 427.8,451.1 426.5,453.0 425.2,452.2 423.9,451.4 422.6,452.2 421.3,451.2 420.0,452.3 418.6,453.2 417.3,453.0 416.0,452.7 414.7,451.9 413.4,452.1 412.1,451.7 410.8,453.0 409.5,452.5 408.2,453.0 406.9,452.2 405.6,452.0 404.3,453.2 403.0,453.6 401.7,453.3 400.4,453.3 399.1,453.3 397.8,453.2 396.4,452.2 395.1,452.8 393.8,452.5 392.5,451.9 391.2,451.9 389.9,452.5 388.6,452.5 387.3,453.4 386.0,454.0 384.7,453.0 383.4,454.0 382.1,454.2 380.8,454.2 379.5,453.0 378.2,452.8 376.9,452.8 375.5,452.8 374.2,452.9 372.9,453.8 371.6,454.4 370.3,454.3 369.0,453.6 367.7,454.0 366.4,454.4 365.1,453.0 363.8,454.2 362.5,454.7 361.2,454.5 359.9,454.5 358.6,454.0 357.3,453.5 356.0,454.7 354.7,453.9 353.3,454.9 352.0,455.4 350.7,454.3 349.4,454.4 348.1,455.6 346.8,455.3 345.5,454.3 344.2,454.3 342.9,454.4 341.6,456.0 340.3,455.9 339.0,454.7 337.7,456.2 336.4,456.6 335.1,456.1 333.8,455.5 332.4,456.0 331.1,455.3 329.8,455.2 328.5,457.2 327.2,456.6 325.9,456.5 324.6,457.4 323.3,456.5 322.0,457.5" fill="none" stroke="#1A6FDF" stroke-width="2.2" stroke-linejoin="round" stroke-linecap="round" />
<polyline points="473.5,450.1 472.2,448.9 470.9,449.0 469.6,449.1 468.3,449.0 467.0,449.8 465.7,449.2 464.4,449.5 463.1,449.0 461.8,450.6 460.5,449.5 459.2,449.8 457.9,450.0 456.6,450.7 455.3,449.8 454.0,450.8 452.7,450.0 451.4,450.1 450.1,450.2 448.8,449.2 447.5,450.1 446.2,449.6 444.9,449.3 443.6,450.9 442.3,449.7 441.0,450.4 439.7,450.9 438.4,450.6 437.1,450.2 435.8,450.6 434.5,450.7 433.2,451.2 431.9,449.9 430.6,450.8 429.3,450.3 428.0,450.4 426.7,451.4 425.4,450.9 424.1,451.0 422.8,451.5 421.5,451.8 420.2,450.9 418.9,451.3 417.6,451.1 416.3,451.1 415.0,451.5 413.7,451.1 412.4,451.3 411.1,451.2 409.8,452.1 408.5,451.7 407.2,452.1 405.9,452.2 404.6,450.9 403.3,451.5 402.0,452.3 400.7,452.1 399.4,450.8 398.1,450.8 396.8,451.4 395.4,450.7 394.1,451.1 392.8,450.8 391.5,452.0 390.2,452.3 388.9,452.5 387.6,451.1 386.3,452.3 385.0,452.2 383.7,451.2 382.4,452.7 381.1,453.0 379.8,451.5 378.5,453.0 377.2,452.0 375.9,452.2 374.6,453.3 373.3,453.0 372.0,451.7 370.7,452.3 369.4,452.5 368.1,452.2 366.8,452.0 365.5,452.2 364.2,453.1 362.9,451.7 361.6,452.9 360.3,452.7 359.0,451.9 357.7,452.6 356.4,453.2 355.1,453.0 353.8,452.2 352.5,454.2 351.2,453.9 349.9,454.3 348.6,452.7 347.3,453.1 346.0,452.8 344.7,454.4 343.4,453.4 342.1,453.3 340.8,453.9 339.5,455.0 338.2,454.9 336.9,453.9 335.6,453.8 334.3,455.4 333.0,454.8 331.7,455.2 330.4,454.1 329.1,454.1 327.8,455.5 326.5,455.0 325.2,454.4 323.9,456.3 322.6,455.8 321.3,456.2 320.0,454.9 297.8,458.2 283.1,460.7 277.0,462.4 273.3,463.8 270.5,465.6 268.4,468.0 266.0,471.4 264.0,475.3 262.0,480.6 260.6,486.3 259.2,492.3 258.2,498.5 257.4,505.5 256.9,513.2 256.7,532.8 257.1,562.1 244.6,564.8 243.6,566.2 243.6,686.0 228.9,689.6 228.0,709.8 217.4,711.6 216.6,728.1 202.3,730.9 201.4,734.6 195.0,736.4 191.9,737.5 190.5,739.5 176.2,741.3 174.8,743.2 174.8,743.4 173.2,742.7 171.6,743.8 169.9,743.5 168.3,743.6 166.7,744.0 165.1,744.7 163.5,744.1 161.9,744.1 160.2,744.8 158.6,744.6 157.0,744.6 155.4,744.9 153.8,745.0 152.1,745.4 150.5,745.8 148.9,746.0 147.3,746.8 145.7,746.4 144.0,746.9 142.4,746.8 140.8,747.2 139.2,747.0 137.6,747.5 136.0,747.5 134.3,748.5 132.7,748.4 131.1,748.1 129.5,748.6 127.9,749.4 126.2,748.5 124.6,749.5 123.0,749.2 121.4,749.5 119.8,750.0 118.1,749.7 116.5,750.0 114.9,750.3 113.3,750.8 111.7,750.2 110.1,751.0 108.4,751.0 106.8,751.1 105.2,750.9 103.6,751.0 102.0,750.8 100.3,751.0 98.7,751.1 97.1,752.1 95.5,751.6 93.9,751.7 92.2,751.7 90.6,752.8 89.0,753.0 87.4,752.9 85.8,752.5 84.2,752.6 82.5,752.9 80.9,753.2 79.3,753.0" fill="none" stroke="#1A6FDF" stroke-width="2.2" stroke-linejoin="round" stroke-linecap="round" />
<polyline points="79.3,753.8 122.0,752.0 150.5,750.8 179.0,749.2 205.0,747.6 231.7,746.1 255.0,743.3 269.3,741.2 276.5,739.0 279.6,737.0 282.3,734.7 284.8,731.8 286.6,729.0 287.3,693.1 293.7,691.7 296.0,690.2 298.0,688.1 299.4,685.8 300.2,683.1 300.6,673.0 300.5,557.8 314.5,556.0 315.5,554.5 315.7,503.5 327.1,500.3 328.4,498.5 329.2,482.7 340.4,480.6 343.4,471.5 354.6,469.0 356.7,465.4 373.0,462.3 374.0,460.0 381.0,457.6 388.0,455.6 395.0,454.0 397.0,452.8 398.3,452.4 399.6,453.8 401.0,453.8 402.3,452.9 403.6,452.3 404.9,453.7 406.2,452.3 407.6,452.4 408.9,451.7 410.2,452.4 411.5,452.6 412.8,452.6 414.1,452.0 415.5,452.5 416.8,451.5 418.1,452.0 419.4,451.6 420.7,452.2 422.1,451.5 423.4,451.4 424.7,451.9 426.0,451.7 427.3,452.4 428.7,452.2 430.0,452.6 431.3,452.4 432.6,452.5 433.9,452.8 435.2,451.8 436.6,451.6 437.9,452.9 439.2,451.2 440.5,452.3 441.8,452.1 443.2,450.8 444.5,452.4 445.8,452.4 447.1,451.9 448.4,452.0 449.8,452.2 451.1,450.8 452.4,451.5 453.7,451.4 455.0,452.0 456.4,451.9 457.7,451.9 459.0,451.4 460.3,452.0 461.6,451.5 462.9,451.5 464.3,450.5 465.6,450.1 466.9,450.3 468.2,450.7 469.5,450.1 470.9,451.6 472.2,451.0 473.5,451.1" fill="none" stroke="#1A6FDF" stroke-width="2.2" stroke-linejoin="round" stroke-linecap="round" />
</g>
<rect x="65.4" y="437.6" width="421.70000000000005" height="328.69999999999993" fill="none" stroke="#000" stroke-width="2.2"/>
<line x1="107.60" y1="766.30" x2="107.60" y2="759.30" stroke="#000" stroke-width="2"/>
<line x1="107.60" y1="437.60" x2="107.60" y2="444.60" stroke="#000" stroke-width="2"/>
<text x="107.6" y="793.8" font-size="23" text-anchor="middle" font-weight="bold"  style="">-60</text>
<line x1="192.10" y1="766.30" x2="192.10" y2="759.30" stroke="#000" stroke-width="2"/>
<line x1="192.10" y1="437.60" x2="192.10" y2="444.60" stroke="#000" stroke-width="2"/>
<text x="192.1" y="793.8" font-size="23" text-anchor="middle" font-weight="bold"  style="">-30</text>
<line x1="276.60" y1="766.30" x2="276.60" y2="759.30" stroke="#000" stroke-width="2"/>
<line x1="276.60" y1="437.60" x2="276.60" y2="444.60" stroke="#000" stroke-width="2"/>
<text x="276.6" y="793.8" font-size="23" text-anchor="middle" font-weight="bold"  style="">0</text>
<line x1="361.10" y1="766.30" x2="361.10" y2="759.30" stroke="#000" stroke-width="2"/>
<line x1="361.10" y1="437.60" x2="361.10" y2="444.60" stroke="#000" stroke-width="2"/>
<text x="361.1" y="793.8" font-size="23" text-anchor="middle" font-weight="bold"  style="">30</text>
<line x1="445.60" y1="766.30" x2="445.60" y2="759.30" stroke="#000" stroke-width="2"/>
<line x1="445.60" y1="437.60" x2="445.60" y2="444.60" stroke="#000" stroke-width="2"/>
<text x="445.6" y="793.8" font-size="23" text-anchor="middle" font-weight="bold"  style="">60</text>
<line x1="149.85" y1="766.30" x2="149.85" y2="762.30" stroke="#000" stroke-width="2"/>
<line x1="149.85" y1="437.60" x2="149.85" y2="441.60" stroke="#000" stroke-width="2"/>
<line x1="234.35" y1="766.30" x2="234.35" y2="762.30" stroke="#000" stroke-width="2"/>
<line x1="234.35" y1="437.60" x2="234.35" y2="441.60" stroke="#000" stroke-width="2"/>
<line x1="318.85" y1="766.30" x2="318.85" y2="762.30" stroke="#000" stroke-width="2"/>
<line x1="318.85" y1="437.60" x2="318.85" y2="441.60" stroke="#000" stroke-width="2"/>
<line x1="403.35" y1="766.30" x2="403.35" y2="762.30" stroke="#000" stroke-width="2"/>
<line x1="403.35" y1="437.60" x2="403.35" y2="441.60" stroke="#000" stroke-width="2"/>
<line x1="65.40" y1="437.66" x2="72.40" y2="437.66" stroke="#000" stroke-width="2"/>
<line x1="487.10" y1="437.66" x2="480.10" y2="437.66" stroke="#000" stroke-width="2"/>
<text x="57.3" y="445.4" font-size="23" text-anchor="end" font-weight="bold"  style="">6</text>
<line x1="65.40" y1="519.83" x2="72.40" y2="519.83" stroke="#000" stroke-width="2"/>
<line x1="487.10" y1="519.83" x2="480.10" y2="519.83" stroke="#000" stroke-width="2"/>
<text x="57.3" y="527.5" font-size="23" text-anchor="end" font-weight="bold"  style="">3</text>
<line x1="65.40" y1="602.00" x2="72.40" y2="602.00" stroke="#000" stroke-width="2"/>
<line x1="487.10" y1="602.00" x2="480.10" y2="602.00" stroke="#000" stroke-width="2"/>
<text x="57.3" y="609.7" font-size="23" text-anchor="end" font-weight="bold"  style="">0</text>
<line x1="65.40" y1="684.17" x2="72.40" y2="684.17" stroke="#000" stroke-width="2"/>
<line x1="487.10" y1="684.17" x2="480.10" y2="684.17" stroke="#000" stroke-width="2"/>
<text x="57.3" y="691.9" font-size="23" text-anchor="end" font-weight="bold"  style="">-3</text>
<line x1="65.40" y1="766.34" x2="72.40" y2="766.34" stroke="#000" stroke-width="2"/>
<line x1="487.10" y1="766.34" x2="480.10" y2="766.34" stroke="#000" stroke-width="2"/>
<text x="57.3" y="774.0" font-size="23" text-anchor="end" font-weight="bold"  style="">-6</text>
<line x1="65.40" y1="478.75" x2="69.40" y2="478.75" stroke="#000" stroke-width="2"/>
<line x1="487.10" y1="478.75" x2="483.10" y2="478.75" stroke="#000" stroke-width="2"/>
<line x1="65.40" y1="560.91" x2="69.40" y2="560.91" stroke="#000" stroke-width="2"/>
<line x1="487.10" y1="560.91" x2="483.10" y2="560.91" stroke="#000" stroke-width="2"/>
<line x1="65.40" y1="643.09" x2="69.40" y2="643.09" stroke="#000" stroke-width="2"/>
<line x1="487.10" y1="643.09" x2="483.10" y2="643.09" stroke="#000" stroke-width="2"/>
<line x1="65.40" y1="725.25" x2="69.40" y2="725.25" stroke="#000" stroke-width="2"/>
<line x1="487.10" y1="725.25" x2="483.10" y2="725.25" stroke="#000" stroke-width="2"/>
<text x="22.0" y="416.0" font-size="21.5" text-anchor="start" font-weight="bold"  style="">(b)</text>
<text x="238.4" y="830.8" font-size="21.9" text-anchor="start" font-weight="bold"  style=""><tspan font-style="italic">H</tspan> (kOe)</text>
<g transform="translate(25.1,655.7) rotate(-90)"><text x="0.0" y="0.0" font-size="22.5" text-anchor="start" font-weight="bold"  style=""><tspan font-style="italic">M</tspan> (&#160;<tspan font-size="15" dy="5">&#160;B</tspan><tspan dy="-5"> / f.u.)</tspan></text></g>
<line x1="79.50" y1="458.60" x2="117.40" y2="458.60" stroke="#515151" stroke-width="2.2"/>
<text x="120.5" y="464.0" font-size="15.7" text-anchor="start" font-weight="bold"  style="">zero cooled</text>
<line x1="79.50" y1="478.90" x2="117.40" y2="478.90" stroke="#F14040" stroke-width="2.2"/>
<text x="120.5" y="484.3" font-size="15.7" text-anchor="start" font-weight="bold"  style="">2 kOe field cooled</text>
<line x1="79.50" y1="499.00" x2="117.40" y2="499.00" stroke="#1A6FDF" stroke-width="2.2"/>
<text x="120.5" y="504.4" font-size="15.7" text-anchor="start" font-weight="bold"  style="">17 kOe field cooled</text>
<text x="114.5" y="535.3" font-size="18" text-anchor="start" font-weight="bold"  style="">60 Oe/Sec</text>
<rect x="325.0" y="610.5" width="151.10000000000002" height="128.39999999999998" fill="#fff"/>
<g clip-path="url(#clipJ)">
<polyline points="324.8,715.1 336.0,712.0 348.9,707.9 350.4,696.5 351.9,695.3 360.0,694.0 367.2,692.7 371.0,691.0 374.3,688.6 376.6,684.5 378.4,642.8 389.6,641.8 397.2,640.7 419.6,637.7 425.7,633.6 442.0,631.6 444.1,628.5 460.4,626.5 475.6,623.4" fill="none" stroke="#8B1A1A" stroke-width="2.0" stroke-linejoin="round" stroke-linecap="round" />
<polyline points="324.8,717.7 332.0,715.5 338.7,713.0 340.3,707.5 350.0,705.0 359.1,702.9 363.1,699.8 365.6,661.1 380.0,659.4 393.1,658.0 394.8,640.7 419.8,636.9 421.5,631.2 444.0,627.9 462.0,625.9 475.6,623.2" fill="none" stroke="#8E8E00" stroke-width="1.9" stroke-linejoin="round" stroke-linecap="round" />
<polyline points="324.8,718.1 333.0,716.0 338.7,714.0 346.8,708.0 352.0,703.6 359.1,697.8 361.1,650.9 375.0,649.6 385.0,648.9 392.1,646.4 394.8,637.1 418.6,634.2 420.0,626.9 450.2,625.5 451.8,622.4 475.6,622.0" fill="none" stroke="#3CB371" stroke-width="1.8" stroke-linejoin="round" stroke-linecap="round" />
<polyline points="324.8,720.2 332.0,718.3 338.7,716.1 341.8,707.9 350.0,706.2 361.1,703.9 364.2,659.7 375.0,658.8 390.0,658.0 392.1,640.7 419.6,636.7 421.3,631.6 444.0,627.5 462.4,625.5 475.6,623.0" fill="none" stroke="#FF0000" stroke-width="2.2" stroke-linejoin="round" stroke-linecap="round" />
<polyline points="324.8,727.9 330.5,726.4 336.7,724.2 340.7,722.6 344.4,720.6 346.8,705.9 360.0,703.7 375.4,701.2 377.4,651.9 385.0,650.9 402.3,649.9 403.7,637.7 428.8,635.0 431.4,627.5 464.4,625.5 466.5,623.4 475.6,622.8" fill="none" stroke="#0000FF" stroke-width="2.2" stroke-linejoin="round" stroke-linecap="round" />
</g>
<rect x="325.0" y="610.5" width="151.10000000000002" height="128.39999999999998" fill="none" stroke="#000" stroke-width="1.6"/>
<line x1="375.20" y1="738.90" x2="375.20" y2="735.70" stroke="#000" stroke-width="1.4"/>
<line x1="375.20" y1="610.50" x2="375.20" y2="613.70" stroke="#000" stroke-width="1.4"/>
<line x1="425.40" y1="738.90" x2="425.40" y2="735.70" stroke="#000" stroke-width="1.4"/>
<line x1="425.40" y1="610.50" x2="425.40" y2="613.70" stroke="#000" stroke-width="1.4"/>
<line x1="325.00" y1="642.60" x2="328.20" y2="642.60" stroke="#000" stroke-width="1.4"/>
<line x1="476.10" y1="642.60" x2="472.90" y2="642.60" stroke="#000" stroke-width="1.4"/>
<line x1="325.00" y1="674.70" x2="328.20" y2="674.70" stroke="#000" stroke-width="1.4"/>
<line x1="476.10" y1="674.70" x2="472.90" y2="674.70" stroke="#000" stroke-width="1.4"/>
<line x1="325.00" y1="706.80" x2="328.20" y2="706.80" stroke="#000" stroke-width="1.4"/>
<line x1="476.10" y1="706.80" x2="472.90" y2="706.80" stroke="#000" stroke-width="1.4"/>
<line x1="325.00" y1="626.55" x2="327.00" y2="626.55" stroke="#000" stroke-width="1.4"/>
<line x1="476.10" y1="626.55" x2="474.10" y2="626.55" stroke="#000" stroke-width="1.4"/>
<line x1="325.00" y1="658.65" x2="327.00" y2="658.65" stroke="#000" stroke-width="1.4"/>
<line x1="476.10" y1="658.65" x2="474.10" y2="658.65" stroke="#000" stroke-width="1.4"/>
<line x1="325.00" y1="690.75" x2="327.00" y2="690.75" stroke="#000" stroke-width="1.4"/>
<line x1="476.10" y1="690.75" x2="474.10" y2="690.75" stroke="#000" stroke-width="1.4"/>
<line x1="325.00" y1="722.85" x2="327.00" y2="722.85" stroke="#000" stroke-width="1.4"/>
<line x1="476.10" y1="722.85" x2="474.10" y2="722.85" stroke="#000" stroke-width="1.4"/>
<text x="319.6" y="620.2" font-size="19" text-anchor="end" font-weight="bold"  style="">6</text>
<text x="319.6" y="650.3" font-size="19" text-anchor="end" font-weight="bold"  style="">3</text>
<text x="319.6" y="682.8" font-size="19" text-anchor="end" font-weight="bold"  style="">0</text>
<text x="319.6" y="714.6" font-size="19" text-anchor="end" font-weight="bold"  style="">-3</text>
<text x="319.6" y="745.8" font-size="19" text-anchor="end" font-weight="bold"  style="">-6</text>
<text x="324.4" y="758.6" font-size="19" text-anchor="middle" font-weight="bold"  style="">0</text>
<text x="425.4" y="757.8" font-size="19" text-anchor="middle" font-weight="bold"  style="">20</text>
<text x="394.0" y="672.9" font-size="13.5" text-anchor="start" font-weight="bold"  style="">Sweep rate</text>
<text x="394.0" y="690.0" font-size="13.5" text-anchor="start" font-weight="bold"  style="">60 Oe/sec</text>
</svg>
</body></html>
